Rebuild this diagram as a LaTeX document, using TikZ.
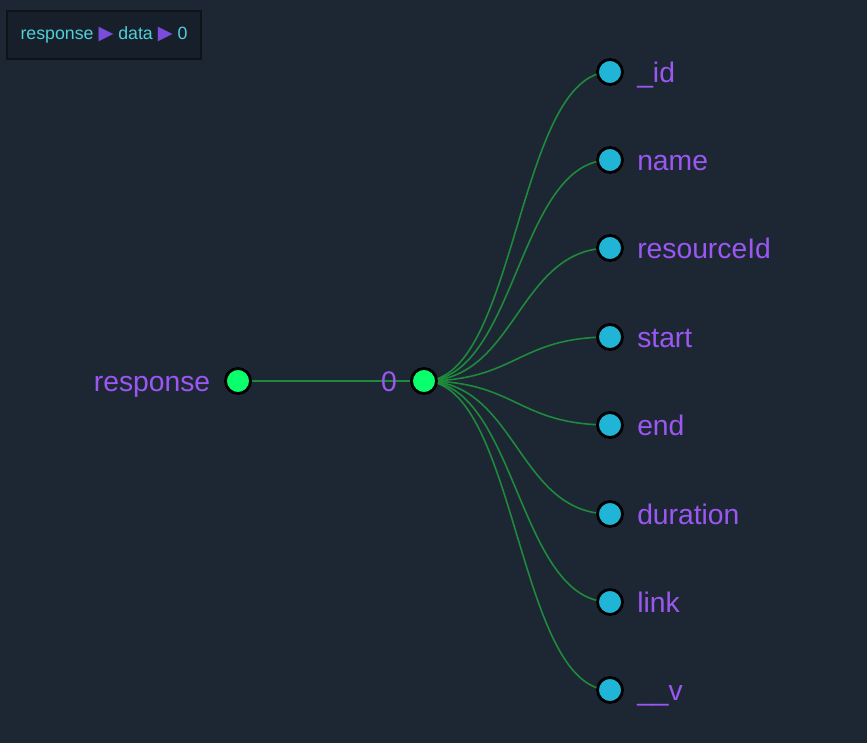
\documentclass[tikz,border=0pt]{standalone}
\usepackage{fontspec}
\setmainfont{Liberation Sans}
\newfontfamily\symfont{DejaVu Sans}
\usetikzlibrary{positioning,backgrounds}
\definecolor{bg}{HTML}{1D2733}
\definecolor{crumbbg}{HTML}{17202A}
\definecolor{crumbline}{HTML}{0D1319}
\definecolor{crumbtxt}{HTML}{4FCFD8}
\definecolor{arrowpurple}{HTML}{7B4BDB}
\definecolor{lblpurple}{HTML}{9B57F2}
\definecolor{rootgreen}{HTML}{0AFF6C}
\definecolor{leafblue}{HTML}{20B4D6}
\definecolor{edgegreen}{HTML}{1E8A3C}
\tikzset{
 dot/.style={circle,draw=black,line width=1.6pt,minimum size=0.5cm,inner sep=0pt},
 lbl/.style={text=lblpurple,font=\fontsize{16.1}{19}\selectfont,inner sep=0pt,yshift=-0.21cm},
 edge/.style={edgegreen,line width=0.9pt},
 crumb/.style={fill=crumbbg,draw=crumbline,line width=0.6pt,minimum width=3.88cm,minimum height=0.96cm,text=crumbtxt,font=\fontsize{10.1}{12}\selectfont}
}
\newcommand{\tri}{{\color{arrowpurple}\symfont\fontsize{11}{12}\selectfont ▶}}
\begin{document}
\begin{tikzpicture}[x=0.02cm,y=-0.02cm]
\useasboundingbox (0,0) rectangle (867,743);
\begin{scope}[on background layer]
\fill[bg] (0,0) rectangle (867,743);
\end{scope}
\node[crumb] (crumb) at (104,35) {response \tri{} data \tri{} 0};
\node[dot,fill=rootgreen] (response) at (238,381) {};
\node[lbl,left=0.27cm of response.west,anchor=base east] (responselbl) {response};
\node[dot,fill=rootgreen] (zero) at (424,381) {};
\node[lbl,left=0.26cm of zero.west,anchor=base east] (zerolbl) {0};
\foreach \y/\key/\txt in {72/id/\_id,160/name/name,248/resourceId/resourceId,337/start/start,425/end/end,514/duration/duration,602/link/link,690/v/\_\_v}{
 \node[dot,fill=leafblue] (\key) at (610,\y) {};
 \node[lbl,right=0.26cm of \key.east,anchor=base west] (\key lbl) {\txt};
 \begin{scope}[on background layer]
 \draw[edge] (zero.center) .. controls (517,381) and (517,\y) .. (\key.center);
 \end{scope}
}
\begin{scope}[on background layer]
\draw[edge] (response.center) -- (zero.center);
\end{scope}
\end{tikzpicture}
\end{document}
